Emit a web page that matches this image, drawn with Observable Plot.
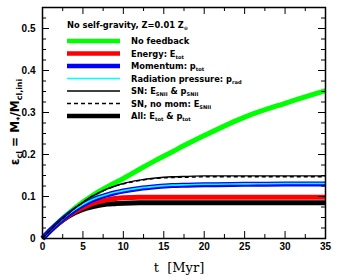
<!DOCTYPE html>
<html><head><meta charset="utf-8">
<script src="https://cdn.jsdelivr.net/npm/d3@7"></script>
<script src="https://cdn.jsdelivr.net/npm/@observablehq/plot@0.6"></script>
<style>body{margin:0;background:#fff}#c{width:343px;height:280px}</style>
</head><body><div id="c"></div>
<script>
// ---- data ----
const t          = [0, 1, 2, 3, 4, 5, 6, 7, 8, 9, 10, 12, 14, 16, 18, 20, 25, 30, 35];
const noFeedback = [0, 0.020, 0.039, 0.056, 0.072, 0.087, 0.100, 0.112, 0.123, 0.133, 0.143, 0.165, 0.186, 0.206, 0.226, 0.245, 0.289, 0.322, 0.352];
const allFb      = [0, 0.019, 0.036, 0.050, 0.061, 0.069, 0.075, 0.079, 0.082, 0.083, 0.084, 0.085, 0.085, 0.085, 0.085, 0.085, 0.085, 0.085, 0.085];
const energy     = [0, 0.020, 0.037, 0.052, 0.064, 0.074, 0.082, 0.088, 0.092, 0.095, 0.097, 0.098, 0.098, 0.098, 0.098, 0.098, 0.098, 0.098, 0.098];
const momentum   = [0, 0.020, 0.038, 0.054, 0.068, 0.080, 0.090, 0.098, 0.104, 0.109, 0.113, 0.119, 0.123, 0.126, 0.127, 0.128, 0.129, 0.130, 0.130];
const radiation  = [0, 0.020, 0.038, 0.055, 0.069, 0.081, 0.091, 0.099, 0.105, 0.110, 0.114, 0.120, 0.124, 0.127, 0.128, 0.129, 0.130, 0.131, 0.131];
const snBoth     = [0, 0.020, 0.039, 0.056, 0.072, 0.086, 0.099, 0.109, 0.118, 0.125, 0.131, 0.139, 0.144, 0.147, 0.148, 0.149, 0.149, 0.149, 0.149];
const snNoMom    = [0, 0.020, 0.039, 0.056, 0.072, 0.086, 0.099, 0.109, 0.118, 0.125, 0.130, 0.138, 0.143, 0.145, 0.146, 0.147, 0.147, 0.147, 0.147];

const xTicks = [0, 5, 10, 15, 20, 25, 30, 35];
const yTicks = [0, 0.1, 0.2, 0.3, 0.4, 0.5];

const legendTitle = [["No self-gravity, Z=0.01 Z"], ["⊙", "sub"]];
const legendLabels = [
  [["No feedback"]],
  [["Energy: E"], ["tot", "sub"]],
  [["Momentum: p"], ["tot", "sub"]],
  [["Radiation pressure: p"], ["rad", "sub"]],
  [["SN: E"], ["SNII", "sub"], [" & p"], ["SNII", "sub"]],
  [["SN, no mom: E"], ["SNII", "sub"]],
  [["All: E"], ["tot", "sub"], [" & p"], ["tot", "sub"]]
];
const xLabel = [["t  [Myr]"]];
const yLabel = [["ε"], ["cl", "sub"], [" = M"], ["*", "sub"], ["/M"], ["cl,ini", "sub"]];

// ---- styles per series (legend order) ----
const series = [
  {values: noFeedback, stroke: "#00ff00", width: 5,   legendWidth: 4.5},
  {values: energy,     stroke: "#ff0000", width: 5,   legendWidth: 4.5},
  {values: momentum,   stroke: "#0000ff", width: 5,   legendWidth: 4.5},
  {values: radiation,  stroke: "#00ffff", width: 1.6, legendWidth: 1.6},
  {values: snBoth,     stroke: "#000000", width: 1.4, legendWidth: 1.4},
  {values: snNoMom,    stroke: "#000000", width: 1.4, legendWidth: 1.4, dash: "4,3"},
  {values: allFb,      stroke: "#000000", width: 5,   legendWidth: 4.5}
];
const drawOrder = [0, 6, 1, 2, 3, 4, 5];

const W = 343, H = 280, mL = 42, mR = 18, mT = 7, mB = 42;
const innerW = W - mL - mR, innerH = H - mT - mB;

const xMinor = d3.range(0, 35.01, 2.5).filter(d => !xTicks.includes(d));
const yMinor = d3.range(0, 22).map(i => +(i * 0.025).toFixed(3)).filter(d => !yTicks.some(v => Math.abs(v - d) < 1e-9));

const lineMarks = drawOrder.map(k => {
  const s = series[k];
  const rows = t.map((x, i) => ({t: x, v: s.values[i]}));
  return Plot.line(rows, {x: "t", y: "v", stroke: s.stroke, strokeWidth: s.width,
    strokeDasharray: s.dash, curve: "monotone-x", strokeLinecap: "butt"});
});

const majL = 7, minL = 4;
const plot = Plot.plot({
  width: W, height: H,
  marginLeft: mL, marginRight: mR, marginTop: mT, marginBottom: mB,
  style: {fontFamily: "Liberation Sans, Arial, sans-serif", fontSize: "10px", background: "#fff", color: "#000", overflow: "visible"},
  x: {domain: [0, 35]},
  y: {domain: [0, 0.55]},
  marks: [
    ...lineMarks,
    // inward ticks on all four sides
    Plot.tickX(xTicks, {x: d => d, insetTop: innerH - majL, stroke: "#000", strokeWidth: 1}),
    Plot.tickX(xMinor, {x: d => d, insetTop: innerH - minL, stroke: "#000", strokeWidth: 1}),
    Plot.tickX(xTicks, {x: d => d, insetBottom: innerH - majL, stroke: "#000", strokeWidth: 1}),
    Plot.tickX(xMinor, {x: d => d, insetBottom: innerH - minL, stroke: "#000", strokeWidth: 1}),
    Plot.tickY(yTicks, {y: d => d, insetRight: innerW - majL, stroke: "#000", strokeWidth: 1}),
    Plot.tickY(yMinor, {y: d => d, insetRight: innerW - minL, stroke: "#000", strokeWidth: 1}),
    Plot.tickY(yTicks, {y: d => d, insetLeft: innerW - majL, stroke: "#000", strokeWidth: 1}),
    Plot.tickY(yMinor, {y: d => d, insetLeft: innerW - minL, stroke: "#000", strokeWidth: 1}),
    Plot.axisX(xTicks, {tickSize: 0, tickPadding: 4, label: null, tickFormat: d => String(d), fontWeight: "bold"}),
    Plot.axisY(yTicks, {tickSize: 0, tickPadding: 7, label: null, tickFormat: d => d === 0 ? "0" : d3.format(".1f")(d), fontWeight: "bold"}),
    Plot.frame({stroke: "#000", strokeWidth: 1.5})
  ]
});
document.getElementById("c").appendChild(plot);

// ---- rich text helper (subscripts) ----
const svg = d3.select(plot);
function rich(g, parts, size, subScale = 0.62) {
  let shift = 0;
  parts.forEach(([txt, kind]) => {
    const sp = g.append("tspan").text(txt);
    const target = kind === "sub" ? size * 0.28 : 0;
    if (kind === "sub") sp.attr("font-size", size * subScale);
    sp.attr("dy", target - shift);
    shift = target;
  });
}

// legend (inside frame, top-left)
const lg = svg.append("g").attr("font-family", "DejaVu Sans, sans-serif").attr("font-weight", "bold")
  .attr("fill", "#000").attr("text-anchor", "start");
const fs = 8.3;
rich(lg.append("text").attr("text-anchor", "start").attr("x", 67).attr("y", 28).attr("font-size", fs), legendTitle, fs);
legendLabels.forEach((parts, i) => {
  const s = series[i];
  const yy = 41 + i * 12.5;
  lg.append("line").attr("x1", 67).attr("x2", 120).attr("y1", yy).attr("y2", yy)
    .attr("stroke", s.stroke).attr("stroke-width", s.legendWidth)
    .attr("stroke-dasharray", s.dash || null);
  rich(lg.append("text").attr("text-anchor", "start").attr("x", 131).attr("y", yy + 3).attr("font-size", fs), parts, fs);
});

// axis titles
const xl = svg.append("text").attr("x", 179).attr("y", 272).attr("text-anchor", "middle")
  .attr("font-family", "DejaVu Serif, serif").attr("font-size", 13);
rich(xl, xLabel, 13);
const yl = svg.append("text").attr("transform", `translate(19,122) rotate(-90)`).attr("text-anchor", "middle")
  .attr("font-family", "DejaVu Sans, sans-serif").attr("font-weight", "bold").attr("font-size", 12);
rich(yl, yLabel, 12, 0.66);
</script>
</body></html>
